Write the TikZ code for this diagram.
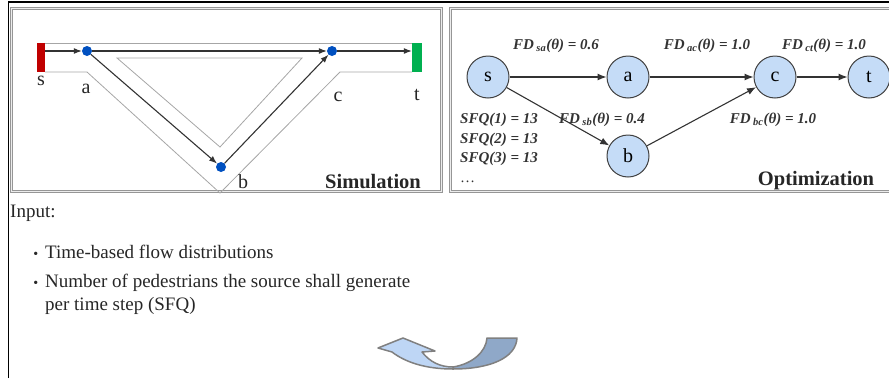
\documentclass[tikz,border=0pt]{standalone}
\usepackage{fontspec}
\setmainfont{Liberation Serif}
\usepackage{tikz}
\usetikzlibrary{positioning,arrows.meta}
\definecolor{simred}{RGB}{192,0,0}
\definecolor{simgreen}{RGB}{0,176,80}
\definecolor{simblue}{RGB}{0,80,192}
\definecolor{vertexfill}{RGB}{197,220,247}
\definecolor{panelgray}{RGB}{150,150,150}
\definecolor{arrowlight}{RGB}{190,214,245}
\definecolor{arrowdark}{RGB}{143,168,200}

\begin{document}
\begin{tikzpicture}[x=1pt,y=-1pt,>={Latex[length=8pt,width=6pt]},node distance=36pt]
\tikzstyle{panel}=[draw=panelgray,line width=1.1pt,double=gray!15,double distance=0.8pt]
\tikzstyle{wall}=[draw=gray!70,line width=0.8pt]
\tikzstyle{flow}=[->,draw=black!80,line width=1.1pt]
\tikzstyle{dot}=[circle,fill=simblue,inner sep=0pt,minimum size=10pt]
\tikzstyle{bar}=[inner sep=0pt,minimum height=29pt]
\tikzstyle{vertex}=[circle,draw=black!75,fill=vertexfill,line width=1pt,minimum size=42pt,inner sep=0pt,font=\fontsize{20}{24}\selectfont]
\tikzstyle{lbl}=[inner sep=0pt,anchor=base,font=\fontsize{20}{24}\selectfont,text=black!85]
\tikzstyle{fd}=[inner sep=0pt,anchor=base,font=\fontsize{15}{18}\selectfont\bfseries\itshape,text=black!80]
\tikzstyle{title}=[inner sep=0pt,anchor=base,font=\fontsize{20.5}{24}\selectfont\bfseries,text=black!85]
\tikzstyle{body}=[inner sep=0pt,anchor=base west,font=\fontsize{19}{23}\selectfont,text=black!85]
\useasboundingbox (0,0) rectangle (889,378);
\draw[line width=1.8pt] (8.5,378) -- (8.5,2) -- (889,2);
\draw[panel] (11.5,8.5) rectangle (441.5,191.5);
\draw[panel] (895,8.5) -- (450.5,8.5) -- (450.5,191.5) -- (895,191.5);

% simulation corridor
\draw[wall] (45,43) -- (412,43);
\draw[wall] (45,72) -- (87,72) -- (220,193) -- (340,72) -- (412,72);
\draw[wall] (117,58) -- (302,58) -- (220,147) -- cycle;
\node[bar,fill=simred,minimum width=8pt] (src) at (41,57.5) {};
\node[bar,fill=simgreen,minimum width=10pt] (snk) at (417,57.5) {};
\node[dot] (pa) at (87,51) {};
\node[dot] (pc) at (332,51) {};
\node[dot] (pb) at (221,167) {};
\draw[flow] (src.east |- pa) -- (pa);
\draw[flow] (pa) -- (pc);
\draw[flow] (pc) -- (snk.west |- pc);
\draw[flow] (pa) -- (pb);
\draw[flow] (pb) -- (pc);
\node[lbl] (ls) at (41,85) {s};
\node[lbl] (la) at (86,93) {a};
\node[lbl] (lc) at (338,101) {c};
\node[lbl] (lt) at (417,100) {t};
\node[lbl] (lb) at (243,188) {b};
\node[title] (sim) at (373,188) {Simulation};

% optimization graph
\node[vertex] (s) at (488,77) {s};
\node[vertex,right=97pt of s] (a) {a};
\node[vertex,right=104pt of a] (c) {c};
\node[vertex,right=51pt of c] (t) {t};
\node[vertex,below=of a] (b) {b};
\draw[flow,>={Latex[length=9pt,width=7pt]}] (s) -- (a);
\draw[flow,>={Latex[length=9pt,width=7pt]}] (a) -- (c);
\draw[flow,>={Latex[length=9pt,width=7pt]}] (c) -- (t);
\draw[flow,>={Latex[length=9pt,width=7pt]}] (s) -- (b);
\draw[flow,>={Latex[length=9pt,width=7pt]}] (b) -- (c);
\node[fd] (fdsa) at (556,49) {FD\,\textsubscript{sa}(θ) = 0.6};
\node[fd] (fdac) at (707,49) {FD\,\textsubscript{ac}(θ) = 1.0};
\node[fd] (fdct) at (824,49) {FD\,\textsubscript{ct}(θ) = 1.0};
\node[fd] (fdsb) at (602,123) {FD\,\textsubscript{sb}(θ) = 0.4};
\node[fd] (fdbc) at (773,123) {FD\,\textsubscript{bc}(θ) = 1.0};
\node[fd,anchor=base west] (sfq1) at (460,123) {SFQ(1) = 13};
\node[fd,anchor=base west] (sfq2) at (460,143) {SFQ(2) = 13};
\node[fd,anchor=base west] (sfq3) at (460,162) {SFQ(3) = 13};
\node[fd,anchor=base west,font=\fontsize{15}{18}\selectfont] (more) at (460,182) {…};
\node[title] (opt) at (816,185) {Optimization};

% input text
\node[body] (inp) at (10,217) {Input:};
\node[body] (item1) at (45,258) {\llap{\fontsize{14}{14}\selectfont\textbullet\hspace{7pt}}Time-based flow distributions};
\node[body] (item2) at (45,287) {\llap{\fontsize{14}{14}\selectfont\textbullet\hspace{7pt}}Number of pedestrians the source shall generate};
\node[body] (item2b) at (45,310) {per time step (SFQ)};

% curved arrow
\draw[draw=gray,line width=1.5pt,fill=arrowdark,line join=round] (487,338) -- (517,338) .. controls (516,358) and (490,369) .. (453,369) -- (453,367) .. controls (472,364) and (486,352) .. (487,338) -- cycle;
\draw[draw=gray,line width=1.5pt,fill=arrowlight,line join=round] (378,348) -- (403,338) -- (435,351) -- (422,352) .. controls (430,362) and (440,367) .. (453,367) -- (453,369) .. controls (425,369) and (405,362) .. (392,352) -- cycle;
\end{tikzpicture}
\end{document}
